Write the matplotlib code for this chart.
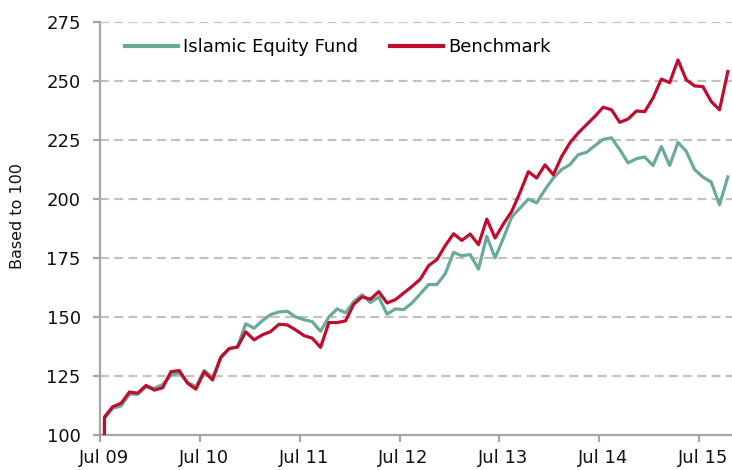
import matplotlib
matplotlib.use("Agg")
import matplotlib.pyplot as plt
from matplotlib.transforms import ScaledTranslation

# month positions (0.5 = mid Jul 09); first two points share the start position
months = [0.5] + [m + 0.5 for m in range(76)]

fund = [100,
        107.0, 111.3, 112.3, 117.3, 117.3, 120.3, 119.8, 121.3, 125.3, 126.3,
        122.3, 120.4, 127.3, 124.4, 132.5, 136.5, 137.4, 147.1, 145.2, 148.4,
        151.0, 152.1, 152.4, 150.0, 148.8, 148.0, 143.9, 150.0, 153.4, 151.7,
        156.5, 159.4, 156.1, 158.4, 151.2, 153.4, 153.1, 155.9, 159.8, 163.7,
        163.7, 168.3, 177.3, 175.9, 176.4, 170.3, 184.1, 175.0, 183.4, 192.3,
        196.1, 199.9, 198.3, 203.9, 208.8, 212.4, 214.5, 218.7, 219.7, 222.5,
        225.2, 225.8, 220.8, 215.2, 217.0, 217.7, 214.1, 222.2, 214.1, 223.9,
        220.1, 212.4, 209.2, 207.1, 197.5, 209.3]

bench = [100,
         107.6, 112.0, 113.4, 118.2, 117.7, 121.0, 119.0, 120.0, 126.8, 127.3,
         121.9, 119.4, 126.8, 123.3, 133.0, 136.6, 137.2, 143.7, 140.3, 142.4,
         143.8, 146.9, 146.6, 144.5, 142.1, 141.0, 137.1, 147.6, 147.6, 148.3,
         155.4, 158.5, 157.5, 160.7, 155.9, 157.3, 160.1, 162.9, 166.0, 171.7,
         174.3, 180.2, 185.2, 182.4, 185.1, 180.6, 191.4, 183.4, 189.4, 194.7,
         202.7, 211.5, 208.8, 214.4, 210.2, 217.9, 223.7, 227.9, 231.4, 234.9,
         238.8, 237.7, 232.4, 233.8, 237.2, 236.9, 242.7, 250.7, 249.2, 258.8,
         250.4, 247.8, 247.5, 241.2, 237.7, 253.9]

tick_pos = [0, 12, 24, 36, 48, 60, 72]
tick_labels = ["Jul 09", "Jul 10", "Jul 11", "Jul 12", "Jul 13", "Jul 14", "Jul 15"]
y_ticks = [100, 125, 150, 175, 200, 225, 250, 275]

GREEN = "#6aaa9b"
RED = "#c00d2e"
GRAY = "#a6a6a6"
W, H = 732, 470

plt.rcParams['font.family'] = ['DejaVu Sans']
fig = plt.figure(figsize=(W / 100, H / 100), dpi=100)
ax = fig.add_axes([100.3 / W, 1 - 435 / H, 1 - 100.3 / W, (435 - 21.7) / H])

for y in y_ticks[1:]:
    ax.axhline(y, color="#c2c2c2", lw=1.6, dashes=(4, 2.4), zorder=0)

ax.plot(months, fund, color=GREEN, lw=2.3, label="Islamic Equity Fund", zorder=3,
        solid_joinstyle="round")
ax.plot(months, bench, color=RED, lw=2.3, label="Benchmark", zorder=4,
        solid_joinstyle="round")

ax.set_xlim(0, 76)
ax.set_ylim(100, 275)
ax.set_yticks(y_ticks)
ax.set_xticks(tick_pos)
ax.set_xticklabels(tick_labels)

for s in ["top", "right"]:
    ax.spines[s].set_visible(False)
for s in ["left", "bottom"]:
    ax.spines[s].set_color(GRAY)
    ax.spines[s].set_linewidth(1.6)

ax.tick_params(axis="both", colors=GRAY, labelcolor="#111111", labelsize=13,
               width=1.6, length=5, direction="out")
ax.tick_params(axis="x", pad=5)
ax.tick_params(axis="y", pad=9)

shift = ScaledTranslation(4 / 100, 0, fig.dpi_scale_trans)
for lab in ax.get_xticklabels():
    lab.set_transform(lab.get_transform() + shift)

fig.text(18 / W, 1 - 216 / H, "Based to 100", rotation=90, fontsize=11.5,
         color="#111111", ha="center", va="center")

leg = ax.legend(loc="center left", bbox_to_anchor=(125 / W, 1 - 47 / H),
                bbox_transform=fig.transFigure, ncol=2, frameon=False,
                fontsize=13, handlelength=2.93, handletextpad=0.3, columnspacing=1.75,
                borderaxespad=0, borderpad=0)
for l in leg.get_lines():
    l.set_linewidth(3)

fig.savefig("out.png", dpi=100)
